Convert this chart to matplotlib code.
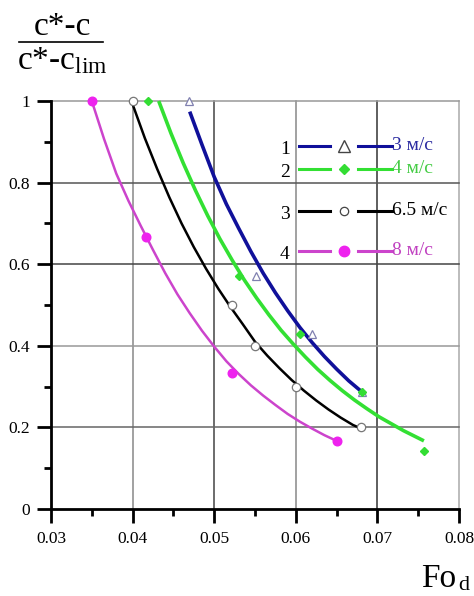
import matplotlib
matplotlib.use("Agg")
import matplotlib.pyplot as plt
from matplotlib.lines import Line2D
from matplotlib.ticker import MultipleLocator

plt.rcParams['font.family'] = ['Liberation Serif', 'DejaVu Serif']
plt.rcParams['mathtext.fontset'] = 'custom'
plt.rcParams['mathtext.rm'] = 'Liberation Serif'
plt.rcParams['mathtext.it'] = 'Liberation Serif:italic'

# ---- data: fitted curves ----
curve1_x = [0.0470, 0.0485, 0.0500, 0.0515, 0.0530, 0.0545, 0.0560, 0.0575, 0.0590,
            0.0605, 0.0620, 0.0635, 0.0650, 0.0665, 0.0681]
curve1_y = [0.974, 0.893, 0.814, 0.747, 0.688, 0.631, 0.578, 0.530, 0.486,
            0.445, 0.408, 0.374, 0.343, 0.314, 0.287]
curve2_x = [0.0432, 0.0447, 0.0462, 0.0477, 0.0492, 0.0507, 0.0522, 0.0537, 0.0552, 0.0567,
            0.0582, 0.0597, 0.0612, 0.0627, 0.0642, 0.0657, 0.0672, 0.0687, 0.0702, 0.0717,
            0.0732, 0.0747, 0.0757]
curve2_y = [1.000, 0.921, 0.848, 0.781, 0.719, 0.662, 0.610, 0.561, 0.517, 0.476,
            0.438, 0.404, 0.372, 0.342, 0.315, 0.290, 0.267, 0.246, 0.226, 0.209,
            0.192, 0.177, 0.167]
curve3_x = [0.0400, 0.0415, 0.0430, 0.0445, 0.0460, 0.0475, 0.0490, 0.0505, 0.0520, 0.0535,
            0.0550, 0.0565, 0.0580, 0.0595, 0.0610, 0.0625, 0.0640, 0.0655, 0.0670, 0.0679]
curve3_y = [0.992, 0.909, 0.834, 0.764, 0.700, 0.642, 0.589, 0.540, 0.495, 0.453,
            0.410, 0.376, 0.345, 0.316, 0.290, 0.266, 0.244, 0.224, 0.206, 0.198]
curve4_x = [0.0350, 0.0365, 0.0380, 0.0395, 0.0410, 0.0425, 0.0440, 0.0455, 0.0470, 0.0485,
            0.0500, 0.0515, 0.0530, 0.0545, 0.0560, 0.0575, 0.0590, 0.0605, 0.0620, 0.0635,
            0.0650]
curve4_y = [1.000, 0.907, 0.822, 0.755, 0.694, 0.635, 0.578, 0.526, 0.480, 0.437,
            0.398, 0.362, 0.331, 0.303, 0.278, 0.255, 0.233, 0.214, 0.197, 0.181,
            0.167]

# ---- data: measured points ----
pts1_x = [0.0469, 0.0551, 0.0620, 0.0681]
pts1_y = [1.000, 0.571, 0.428, 0.286]
pts2_x = [0.0419, 0.0530, 0.0605, 0.0681, 0.0757]
pts2_y = [1.000, 0.571, 0.429, 0.286, 0.143]
pts3_x = [0.0400, 0.0522, 0.0550, 0.0600, 0.0680]
pts3_y = [1.000, 0.500, 0.400, 0.300, 0.200]
pts4_x = [0.0350, 0.0417, 0.0522, 0.0650]
pts4_y = [1.000, 0.667, 0.333, 0.167]

legend_numbers = ['1', '2', '3', '4']
legend_labels = ['3 м/с', '4 м/с', '6.5 м/с', '8 м/с']
x_ticks = [0.03, 0.04, 0.05, 0.06, 0.07, 0.08]
x_tick_labels = ['0.03', '0.04', '0.05', '0.06', '0.07', '0.08']
y_ticks = [0, 0.2, 0.4, 0.6, 0.8, 1.0]
y_tick_labels = ['0', '0.2', '0.4', '0.6', '0.8', '1']

# ---- styles ----
line_colors = ['#10109a', '#33e033', '#000000', '#cc44cc']
line_widths = [2.6, 2.6, 1.8, 1.8]
text_colors = ['#2a2aa0', '#44cc44', '#000000', '#c040c0']

fig = plt.figure(figsize=(4.74, 5.96), dpi=100)
ax = fig.add_axes([51/474, 87/596, 408/474, 408/596])
ax.set_xlim(0.03, 0.08)
ax.set_ylim(0, 1)

# grid lines
vgrid = {0.04: '#888888', 0.05: '#444444', 0.06: '#888888', 0.07: '#333333', 0.08: '#aaaaaa'}
hgrid = {0.2: '#666666', 0.4: '#999999', 0.6: '#444444', 0.8: '#555555', 1.0: '#999999'}
for xv, c in vgrid.items():
    ax.axvline(xv, color=c, lw=1.1, zorder=1, clip_on=False)
for yv, c in hgrid.items():
    ax.axhline(yv, color=c, lw=1.1, zorder=1, clip_on=False)

curves = [(curve1_x, curve1_y), (curve2_x, curve2_y), (curve3_x, curve3_y), (curve4_x, curve4_y)]
for (cx, cy), c, lw in zip(curves, line_colors, line_widths):
    ax.plot(cx, cy, color=c, lw=lw, zorder=3, solid_capstyle='butt',
            solid_joinstyle='round', clip_on=False)

ax.plot(pts1_x, pts1_y, ls='none', marker='^', ms=6, mfc='white', mec='#8080b0', mew=0.9, zorder=4, clip_on=False)
ax.plot(pts2_x, pts2_y, ls='none', marker='D', ms=4.5, mfc='#33dd33', mec='#33dd33', zorder=4, clip_on=False)
ax.plot(pts3_x, pts3_y, ls='none', marker='o', ms=6, mfc='white', mec='#777777', mew=0.9, zorder=4, clip_on=False)
ax.plot(pts4_x, pts4_y, ls='none', marker='o', ms=6.2, mfc='#ee22ee', mec='#ee22ee', zorder=4, clip_on=False)

# legend (manual)
row_y = [0.890, 0.8326, 0.730, 0.632]
legend_markers = [dict(marker='^', ms=8, mfc='white', mec='#444444', mew=1.0),
                  dict(marker='D', ms=5, mfc='#33dd33', mec='#33dd33'),
                  dict(marker='o', ms=6, mfc='white', mec='#444444', mew=0.9),
                  dict(marker='o', ms=7.5, mfc='#ee22ee', mec='#ee22ee')]
for i, yy in enumerate(row_y):
    tr = ax.transAxes
    ax.plot([0.607, 0.684], [yy, yy], color=line_colors[i], lw=2.2, transform=tr, clip_on=False, zorder=5)
    ax.plot([0.752, 0.835], [yy, yy], color=line_colors[i], lw=2.2, transform=tr, clip_on=False, zorder=5)
    ax.plot([0.719], [yy], ls='none', transform=tr, clip_on=False, zorder=5, **legend_markers[i])
    ax.text(0.573, yy - 0.008, legend_numbers[i], transform=tr, ha='center', va='center',
            fontsize=14, color='black', zorder=5)
    ax.text(0.836, yy + 0.002, legend_labels[i], transform=tr, ha='left', va='center',
            fontsize=14, color=text_colors[i], zorder=5)

# axes styling
for s in ['top', 'right']:
    ax.spines[s].set_visible(False)
for s in ['left', 'bottom']:
    ax.spines[s].set_linewidth(2)
    ax.spines[s].set_color('black')
ax.set_xticks(x_ticks)
ax.set_xticklabels(x_tick_labels)
ax.set_yticks(y_ticks)
ax.set_yticklabels(y_tick_labels)
ax.xaxis.set_minor_locator(MultipleLocator(0.005))
ax.yaxis.set_minor_locator(MultipleLocator(0.1))
ax.tick_params(which='major', direction='out', length=10, width=2, labelsize=12.5, pad=6)
ax.tick_params(which='minor', direction='out', length=5, width=2)
ax.tick_params(axis='y', which='major', pad=5)

# y label as fraction
fig.text(62/474, 1 - 35/596, 'c*-c', ha='center', va='baseline', fontsize=24)
fig.add_artist(Line2D([19/474, 103/474], [1 - 42/596, 1 - 42/596], color='black', lw=1.2))
fig.text(17/474, 1 - 69/596, r'c*-c$_{\mathrm{lim}}$', ha='left', va='baseline', fontsize=24)

# x label
fig.text(421/474, 1 - 587/596, 'Fo', ha='left', va='baseline', fontsize=24)
fig.text(458/474, 1 - 590/596, 'd', ha='left', va='baseline', fontsize=16)

fig.savefig('out.png', dpi=100)
